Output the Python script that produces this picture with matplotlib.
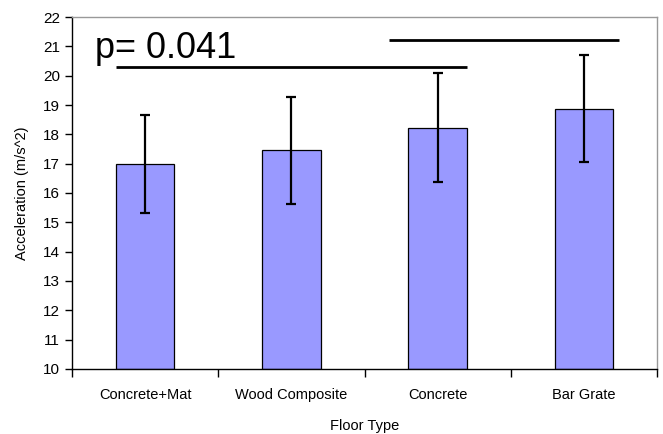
import matplotlib
matplotlib.use('Agg')
from matplotlib import pyplot as plt
import numpy as np

floor_types = ['Concrete+Mat', 'Wood Composite', 'Concrete', 'Bar Grate']
accel_mean = [17.0, 17.45, 18.23, 18.88]
accel_err = [1.67, 1.82, 1.85, 1.83]

# significance bars: (start, end, y level)
sig_lines = [(-0.2, 2.2, 20.3), (1.67, 3.24, 21.2)]
p_text = 'p= 0.041'

plt.rcParams['font.family'] = ['Liberation Sans', 'DejaVu Sans']

fig = plt.figure(figsize=(6.63, 4.34), dpi=100)
ax = fig.add_axes([0.1086, 0.1498, 0.8824, 0.811])

x = np.arange(len(floor_types))
ax.bar(x, np.array(accel_mean) - 10, bottom=10, width=0.4, color='#9999FF',
       edgecolor='black', linewidth=0.9, zorder=2)
ax.errorbar(x, accel_mean, yerr=accel_err, fmt='none', ecolor='black',
            elinewidth=1.6, capsize=3.5, capthick=1.6, zorder=3)

for x0, x1, yv in sig_lines:
    ax.plot([x0, x1], [yv, yv], color='black', linewidth=2, solid_capstyle='butt', zorder=3)
ax.text(-0.34, 20.6, p_text, fontsize=26, ha='left', va='baseline')

ax.set_xlim(-0.5, 3.5)
ax.set_ylim(10, 22)
ax.set_yticks(np.arange(10, 23, 1))
ax.set_xticks(x)
ax.set_xticklabels(floor_types, fontsize=10.5)
ax.set_xticks(np.arange(-0.5, 4.0, 1), minor=True)
ax.tick_params(axis='x', which='major', length=0, pad=14)
ax.tick_params(axis='x', which='minor', length=6, direction='out', width=1)
ax.tick_params(axis='y', length=5, direction='out', width=1, labelsize=11)

for s in ['top', 'right']:
    ax.spines[s].set_color('#999999')
    ax.spines[s].set_linewidth(1)
for s in ['left', 'bottom']:
    ax.spines[s].set_color('black')
    ax.spines[s].set_linewidth(1)

ax.set_xlabel('Floor Type', fontsize=10.5, labelpad=12)
ax.set_ylabel('Acceleration (m/s^2)', fontsize=10.5, labelpad=10)

fig.savefig('out.png', dpi=100)
